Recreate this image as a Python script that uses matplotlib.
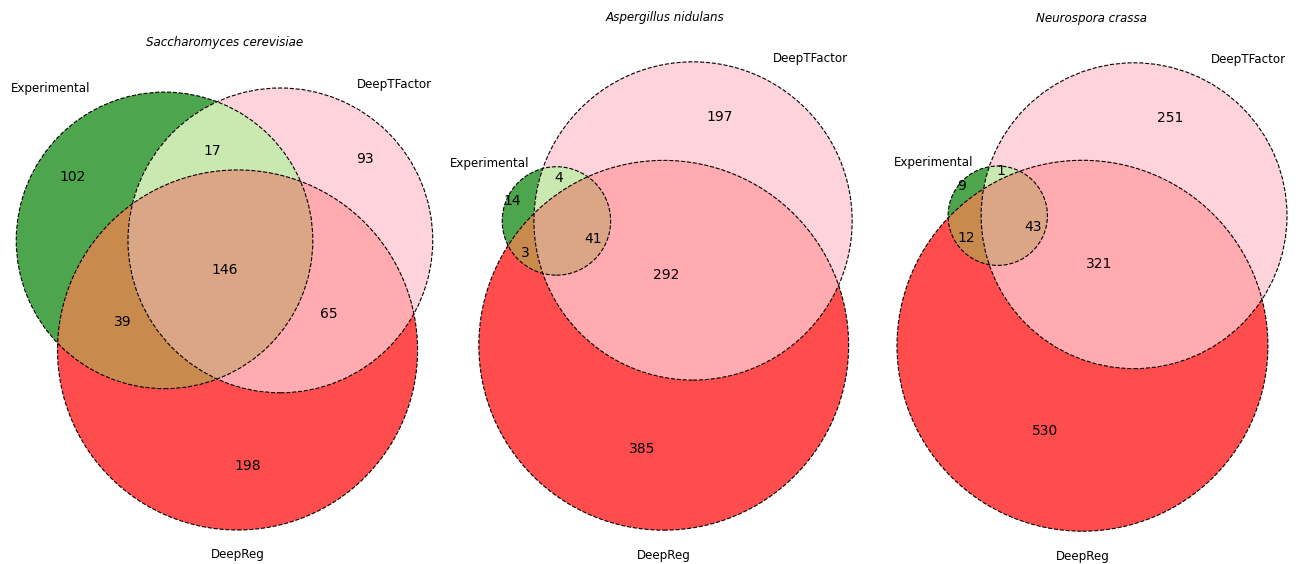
import numpy as np
import matplotlib
matplotlib.use("Agg")
import matplotlib.pyplot as plt
from matplotlib.patches import Circle, Polygon
from matplotlib.colors import to_rgb

# subset order: A only, B only, A&B, C only, A&C, B&C, A&B&C
titles = ["Saccharomyces cerevisiae", "Aspergillus nidulans", "Neurospora crassa"]
set_labels = ["Experimental", "DeepTFactor", "DeepReg"]
set_colors = ["green", "pink", "red"]
sacc = [102, 93, 17, 198, 39, 65, 146]
asp = [14, 197, 4, 385, 3, 292, 41]
neuro = [9, 251, 1, 530, 12, 321, 43]
alpha = 0.7

W, H = 1304, 564
box_w, box_h = 494, 543          # nominal axes box in pixels
panel_centers = [(224.5, 309), (665.5, 296), (1092, 297)]
N = 2880                          # samples per circle


def lens_area(r, R, d):
    if d >= r + R:
        return 0.0
    if d <= abs(R - r):
        return np.pi * min(r, R) ** 2
    a1 = r * r * np.arccos((d * d + r * r - R * R) / (2 * d * r))
    a2 = R * R * np.arccos((d * d + R * R - r * r) / (2 * d * R))
    a3 = 0.5 * np.sqrt((-d + r + R) * (d + r - R) * (d - r + R) * (d + r + R))
    return a1 + a2 - a3


def dist_for_area(r, R, area):
    lo, hi = abs(R - r), r + R
    for _ in range(100):
        mid = (lo + hi) / 2
        if lens_area(r, R, mid) > area:
            lo = mid
        else:
            hi = mid
    return (lo + hi) / 2


def layout(s):
    s = np.array(s, float) / sum(s)
    a_only, b_only, ab, c_only, ac, bc, abc = s
    areas = np.array([a_only + ab + ac + abc,
                      b_only + ab + bc + abc,
                      c_only + ac + bc + abc])
    r = np.sqrt(areas / np.pi)
    d_ab = dist_for_area(r[0], r[1], ab + abc)
    d_bc = dist_for_area(r[1], r[2], bc + abc)
    d_ac = dist_for_area(r[0], r[2], ac + abc)
    cx = (d_ac ** 2 - d_bc ** 2 + d_ab ** 2) / (2 * d_ab)
    cy = -np.sqrt(max(d_ac ** 2 - cx ** 2, 0))
    centers = np.array([[0.0, 0.0], [d_ab, 0.0], [cx, cy]])
    w = r ** 2
    centers -= (w[:, None] * centers).sum(0) / w.sum()
    return centers, r


def mix(*cols):
    m = (0.7 if len(cols) == 2 else 0.4) * np.sum(cols, axis=0)
    return np.minimum(m, 1)


def on_white(c):
    return 1 - alpha + alpha * np.asarray(c)


theta = np.linspace(0, 2 * np.pi, N, endpoint=False)


def circle_pts(c, r):
    return np.c_[c[0] + r * np.cos(theta), c[1] + r * np.sin(theta)]


def inside(p, c, r):
    return np.hypot(p[:, 0] - c[0], p[:, 1] - c[1]) <= r


def intersection_poly(idx, centers, radii):
    pts = []
    for i in idx:
        p = circle_pts(centers[i], radii[i])
        keep = np.ones(len(p), bool)
        for j in idx:
            if j != i:
                keep &= inside(p, centers[j], radii[j])
        pts.append(p[keep])
    pts = np.vstack(pts)
    m = pts.mean(0)
    order = np.argsort(np.arctan2(pts[:, 1] - m[1], pts[:, 0] - m[0]))
    return pts[order]


def runs(mask):
    # contiguous True runs on a closed loop -> (start index, length)
    n = len(mask)
    if not mask.any():
        return []
    if mask.all():
        return [(0, n)]
    k = int(np.argmin(mask))
    m = np.roll(mask, -k)
    out, i = [], 0
    while i < n:
        if m[i]:
            j = i
            while j < n and m[j]:
                j += 1
            out.append(((i + k) % n, j - i))
            i = j
        else:
            i += 1
    return out


def label_positions(centers, radii):
    # mean of the boundary arcs' midpoints, weighted by each arc's angle
    keys = [(1, 0, 0), (0, 1, 0), (1, 1, 0), (0, 0, 1), (1, 0, 1), (0, 1, 1), (1, 1, 1)]
    out = []
    for k in keys:
        acc, wsum = np.zeros(2), 0.0
        for i in range(3):
            p = circle_pts(centers[i], radii[i])
            on = np.ones(N, bool)
            for j in range(3):
                if j != i:
                    on &= inside(p, centers[j], radii[j]) == bool(k[j])
            for start, length in runs(on):
                t = theta[start] + (length - 1) / 2 * (2 * np.pi / N)
                mid = centers[i] + radii[i] * np.array([np.cos(t), np.sin(t)])
                acc += length * mid
                wsum += length
        out.append(acc / wsum)
    return out


base = [np.array(to_rgb(c)) for c in set_colors]
fill_single = [on_white(c) for c in base]
fill_pair = {(0, 1): on_white(mix(base[0], base[1])),
             (0, 2): on_white(mix(base[0], base[2])),
             (1, 2): on_white(mix(base[1], base[2]))}
fill_triple = on_white(mix(base[0], base[1], base[2]))

fig = plt.figure(figsize=(W / 100, H / 100), dpi=100)

for subsets, title, (pcx, pcy) in zip([sacc, asp, neuro], titles, panel_centers):
    centers, radii = layout(subsets)
    xmin = (centers[:, 0] - radii).min() - 0.1
    xmax = (centers[:, 0] + radii).max() + 0.1
    ymin = (centers[:, 1] - radii).min() - 0.1
    ymax = (centers[:, 1] + radii).max() + 0.1
    scale = min(box_w / (xmax - xmin), box_h / (ymax - ymin))
    wp, hp = (xmax - xmin) * scale, (ymax - ymin) * scale
    ax = fig.add_axes([(pcx - wp / 2) / W, 1 - (pcy + hp / 2) / H, wp / W, hp / H])
    ax.set_xlim(xmin, xmax)
    ax.set_ylim(ymin, ymax)
    ax.set_axis_off()

    for i in range(3):
        ax.add_patch(Circle(centers[i], radii[i], facecolor=fill_single[i],
                            edgecolor="none", zorder=1))
    for pair, col in fill_pair.items():
        ax.add_patch(Polygon(intersection_poly(pair, centers, radii), closed=True,
                             facecolor=col, edgecolor="none", zorder=2))
    ax.add_patch(Polygon(intersection_poly((0, 1, 2), centers, radii), closed=True,
                         facecolor=fill_triple, edgecolor="none", zorder=3))
    for i in range(3):
        ax.add_patch(Circle(centers[i], radii[i], facecolor="none", edgecolor="black",
                            linestyle="--", linewidth=0.8, zorder=4))

    for (lx, ly), val in zip(label_positions(centers, radii), subsets):
        ax.text(lx, ly, str(val), ha="center", va="center", fontsize=10, zorder=5)

    ax.text(centers[0][0] - radii[0] / 2, centers[0][1] + radii[0], set_labels[0],
            ha="right", va="baseline", fontsize=8.6)
    ax.text(centers[1][0] + radii[1] / 2, centers[1][1] + radii[1], set_labels[1],
            ha="left", va="baseline", fontsize=8.6)
    ax.text(centers[2][0], centers[2][1] - radii[2] * 1.1, set_labels[2],
            ha="center", va="top", fontsize=8.6)
    ax.set_title(title, fontstyle="italic", fontsize=8.6, pad=2.5)

fig.savefig("out.png", dpi=100)
